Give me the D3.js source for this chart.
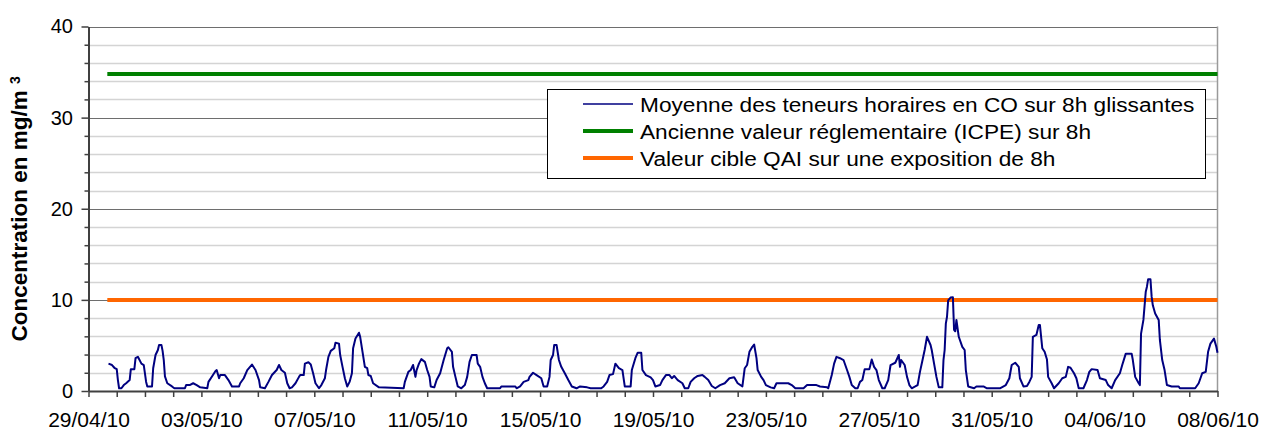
<!DOCTYPE html>
<html>
<head>
<meta charset="utf-8">
<script src="https://cdn.jsdelivr.net/npm/d3@7"></script>
<style>
body { margin: 0; background: #fff; }
svg { display: block; }
text { font-family: "Liberation Sans", Arial, sans-serif; fill: #000; }
</style>
</head>
<body>
<svg id="chart" width="1262" height="431"></svg>
<script>
// dates are handled in UTC so no daylight-saving shift sneaks in
const startDate = new Date(Date.UTC(2010, 3, 29));
const endDate = new Date(Date.UTC(2010, 5, 8));

const xTickLabels = ["29/04/10", "03/05/10", "07/05/10", "11/05/10", "15/05/10", "19/05/10",
    "23/05/10", "27/05/10", "31/05/10", "04/06/10", "08/06/10"];
const yMajorTicks = [0, 10, 20, 30, 40];

// CO 8h rolling mean, hours since 29/04/10 00:00
const coHours = [17, 20, 22, 24, 25, 26, 28, 30, 32, 35, 36, 39, 40, 42, 45, 47, 49, 50, 54, 55,
    57, 59, 60, 62, 63, 64, 65, 67, 71, 73, 82, 83, 86, 89, 92, 95, 101, 102, 105, 108,
    109, 111, 112, 116, 119, 122, 128, 129, 132, 135, 139, 142, 145, 146, 150, 153, 156, 160, 162, 164,
    167, 169, 171, 173, 176, 179, 180, 183, 184, 187, 189, 191, 193, 196, 198, 201, 202, 204, 206, 209,
    210, 213, 214, 216, 218, 220, 222, 224, 225, 227, 230, 231, 233, 235, 237, 238, 240, 242, 247, 268,
    269, 272, 274, 276, 278, 279, 281, 283, 286, 288, 290, 291, 294, 296, 299, 302, 305, 306, 309, 310,
    312, 314, 317, 320, 322, 324, 326, 330, 331, 333, 335, 337, 339, 350, 351, 363, 364, 367, 370, 374,
    375, 378, 381, 385, 387, 390, 392, 393, 395, 396, 398, 400, 402, 405, 408, 411, 415, 418, 424, 427,
    436, 438, 441, 443, 446, 448, 451, 454, 456, 461, 462, 465, 467, 470, 471, 474, 478, 480, 482, 486,
    488, 491, 494, 496, 498, 501, 505, 507, 510, 512, 515, 518, 522, 524, 527, 530, 533, 537, 541, 545,
    549, 552, 556, 558, 560, 562, 564, 566, 568, 569, 572, 574, 576, 580, 583, 585, 595, 598, 601, 608,
    611, 619, 622, 628, 629, 632, 634, 636, 639, 642, 645, 647, 649, 652, 654, 656, 658, 660, 664, 666,
    668, 670, 672, 675, 677, 680, 682, 686, 689, 690, 691, 694, 696, 698, 700, 703, 705, 707, 709, 711,
    713, 716, 717, 719, 721, 723, 726, 727, 728, 729, 730, 731, 733, 735, 736, 737, 738, 740, 743, 745,
    746, 748, 753, 755, 761, 764, 775, 780, 783, 785, 788, 791, 792, 795, 798, 800, 802, 803, 806, 808,
    809, 811, 813, 815, 816, 819, 821, 825, 828, 831, 833, 835, 838, 840, 842, 846, 849, 851, 853, 858,
    860, 865, 867, 870, 873, 877, 879, 882, 887, 888, 890, 893, 894, 895, 897, 899, 900, 901, 903, 904,
    905, 907, 910, 911, 913, 915, 917, 921, 927, 928, 941, 944, 947, 950, 952, 954, 957, 959, 960];
const coValues = [3.0, 2.85, 2.55, 2.4, 1.2, 0.3, 0.3, 0.65, 0.85, 1.2, 2.4, 2.4, 3.6, 3.75, 3.0, 2.85, 1.0, 0.5, 0.5, 2.5,
    3.95, 4.5, 5.05, 5.05, 4.4, 3.4, 1.6, 0.85, 0.5, 0.3, 0.3, 0.65, 0.65, 0.85, 0.65, 0.4, 0.3, 1.0, 1.6, 2.2,
    2.3, 1.4, 1.75, 1.75, 1.2, 0.5, 0.5, 0.85, 1.4, 2.3, 2.9, 2.3, 1.2, 0.4, 0.3, 1.0, 1.75, 2.3, 2.85, 2.3,
    2.0, 0.85, 0.3, 0.4, 0.85, 1.55, 1.75, 1.75, 3.0, 3.15, 2.9, 1.95, 0.85, 0.3, 0.65, 1.4, 2.3, 3.75, 4.4, 4.7,
    5.3, 5.2, 3.95, 2.65, 1.4, 0.5, 1.0, 1.95, 4.7, 5.75, 6.4, 5.95, 4.3, 2.65, 2.5, 1.75, 1.65, 0.85, 0.4, 0.3,
    1.0, 2.1, 2.3, 2.85, 1.55, 2.3, 3.0, 3.5, 3.2, 2.3, 1.55, 0.5, 0.4, 1.2, 1.95, 3.4, 4.7, 4.8, 4.3, 2.65,
    1.55, 0.5, 0.3, 0.65, 1.55, 3.2, 3.95, 3.95, 3.0, 2.65, 1.55, 0.85, 0.3, 0.3, 0.5, 0.5, 0.3, 0.5, 1.0, 1.2,
    1.55, 2.0, 1.75, 1.4, 0.5, 0.5, 1.55, 3.4, 3.95, 5.05, 5.05, 3.4, 2.65, 1.95, 1.2, 0.5, 0.3, 0.5, 0.4, 0.3,
    0.3, 0.5, 1.0, 1.75, 1.85, 3.0, 2.5, 2.3, 0.5, 0.5, 2.3, 3.6, 4.2, 4.2, 2.3, 1.75, 1.5, 1.2, 0.5, 0.65,
    1.2, 1.75, 1.75, 1.4, 1.65, 1.2, 0.85, 0.3, 0.3, 1.0, 1.4, 1.65, 1.75, 1.55, 1.2, 0.55, 0.3, 0.65, 0.85, 1.4,
    1.5, 0.85, 0.5, 2.5, 2.85, 4.3, 4.75, 5.1, 3.6, 2.3, 1.55, 1.2, 0.65, 0.4, 0.3, 0.85, 0.85, 0.65, 0.3, 0.3,
    0.65, 0.65, 0.5, 0.4, 0.3, 1.75, 3.0, 3.75, 3.6, 3.4, 2.3, 1.55, 0.65, 0.3, 0.3, 1.0, 1.2, 2.4, 2.4, 3.45,
    2.65, 2.3, 1.2, 0.3, 0.3, 1.2, 2.85, 3.1, 3.95, 2.65, 3.4, 2.85, 1.55, 0.65, 0.3, 0.5, 0.65, 2.1, 3.3, 4.5,
    5.95, 5.05, 4.5, 3.0, 1.55, 0.4, 0.4, 3.4, 4.5, 7.4, 8.15, 9.95, 10.25, 10.3, 6.7, 6.55, 7.8, 5.95, 4.85, 4.5,
    2.3, 0.5, 0.3, 0.5, 0.5, 0.3, 0.3, 0.65, 1.4, 2.85, 3.1, 2.65, 1.4, 0.5, 0.55, 1.0, 1.55, 5.95, 6.15, 7.25,
    7.25, 4.7, 4.3, 3.45, 1.55, 0.85, 0.3, 0.85, 1.4, 1.55, 2.65, 2.55, 1.95, 1.4, 0.3, 0.3, 1.2, 2.1, 2.4, 2.3,
    1.4, 1.2, 0.65, 0.3, 1.2, 1.95, 2.85, 4.1, 4.1, 3.4, 1.55, 0.85, 0.65, 6.3, 7.8, 10.9, 11.45, 12.25, 12.25, 10.35,
    9.4, 8.5, 7.8, 5.6, 3.4, 2.3, 0.65, 0.5, 0.5, 0.3, 0.3, 0.85, 1.95, 2.1, 4.3, 5.2, 5.75, 4.85, 4.2];

// threshold lines (mg/m3) and the hours they span
const limitHours = [16, 960];
const icpeValue = 34.8;
const qaiValue = 10;

const legendLabels = [
    "Moyenne des teneurs horaires en CO sur 8h glissantes",
    "Ancienne valeur réglementaire (ICPE) sur 8h",
    "Valeur cible QAI sur une exposition de 8h"
];
const legendColors = ["#000080", "#008000", "#ff6600"];
const legendWidths = [1.5, 4, 4];

const svg = d3.select("#chart");
const plotLeft = 88.5, plotRight = 1217.5, plotTop = 26.5, plotBottom = 391;

const x = d3.scaleUtc().domain([startDate, endDate]).range([plotLeft, plotRight]);
const y = d3.scaleLinear().domain([0, 40]).range([plotBottom, plotTop]);

const atHour = h => new Date(startDate.getTime() + h * 3600e3);

// gridlines
const minorTicks = d3.range(0, 41, 2).filter(v => v % 10 != 0);
svg.append("g").selectAll("line")
    .data(minorTicks)
    .join("line")
    .attr("x1", plotLeft).attr("x2", plotRight)
    .attr("y1", d => Math.round(y(d)) + 0.5).attr("y2", d => Math.round(y(d)) + 0.5)
    .style("stroke", "#d4d4d4").style("stroke-width", 1.5);
svg.append("g").selectAll("line")
    .data(yMajorTicks.filter(v => v > 0))
    .join("line")
    .attr("x1", plotLeft).attr("x2", plotRight)
    .attr("y1", d => Math.round(y(d)) + 0.5).attr("y2", d => Math.round(y(d)) + 0.5)
    .style("stroke", "#6e6e6e").style("stroke-width", 1.2);

// right border of the plot area
svg.append("line")
    .attr("x1", plotRight).attr("x2", plotRight).attr("y1", plotTop).attr("y2", plotBottom)
    .style("stroke", "#9a9a9a").style("stroke-width", 1.5);

// threshold lines
const limitLine = d3.line().x(d => x(atHour(d[0]))).y(d => y(d[1]));
svg.append("path")
    .datum(limitHours.map(h => [h, icpeValue]))
    .attr("d", limitLine)
    .style("fill", "none").style("stroke", legendColors[1]).style("stroke-width", 4);
svg.append("path")
    .datum(limitHours.map(h => [h, qaiValue]))
    .attr("d", limitLine)
    .style("fill", "none").style("stroke", legendColors[2]).style("stroke-width", 4);

// CO series
const coLine = d3.line()
    .x((d, i) => x(atHour(coHours[i])))
    .y(d => y(d));
svg.append("path")
    .datum(coValues)
    .attr("d", coLine)
    .style("fill", "none").style("stroke", legendColors[0]).style("stroke-width", 2)
    .style("stroke-linejoin", "round");

// x axis: a tick every day, a label every 4 days
const xAxis = d3.axisBottom(x)
    .ticks(d3.utcDay.every(1))
    .tickSize(6)
    .tickSizeOuter(0)
    .tickFormat((d, i) => i % 4 == 0 ? xTickLabels[i / 4] : "");
const gx = svg.append("g").attr("transform", `translate(0,${plotBottom})`).call(xAxis);
gx.select(".domain").style("stroke", "#404040").style("stroke-width", 2);
gx.selectAll(".tick line").style("stroke", "#404040").style("stroke-width", 1.5);
gx.selectAll(".tick text")
    .attr("y", 21).attr("dy", "0.71em")
    .style("font-size", "21px")
    .style("font-family", "'Liberation Sans', Arial, sans-serif");

// y axis: major ticks with labels, minor ticks every 2
const gyMinor = svg.append("g").attr("transform", `translate(${plotLeft},0)`)
    .call(d3.axisLeft(y).tickValues(minorTicks).tickSize(4).tickFormat(""));
gyMinor.select(".domain").remove();
gyMinor.selectAll(".tick line").style("stroke", "#404040").style("stroke-width", 1.5);

const gy = svg.append("g").attr("transform", `translate(${plotLeft},0)`)
    .call(d3.axisLeft(y).tickValues(yMajorTicks).tickSize(7).tickSizeOuter(0));
gy.select(".domain").style("stroke", "#404040").style("stroke-width", 2);
gy.selectAll(".tick text")
    .attr("x", -15.5)
    .style("font-size", "20px")
    .style("font-family", "'Liberation Sans', Arial, sans-serif");
gy.selectAll(".tick line").style("stroke", "#404040").style("stroke-width", 1.5);

// y axis title, with a raised small 3
const title = svg.append("text")
    .attr("transform", `translate(27,${(plotTop + plotBottom) / 2}) rotate(-90)`)
    .attr("text-anchor", "middle")
    .style("font-size", "22.5px")
    .style("font-weight", "bold");
title.append("tspan").text("Concentration en mg/m ");
title.append("tspan")
    .attr("dy", -7)
    .style("font-size", "14px")
    .text("3");

// legend
const legend = svg.append("g").attr("transform", "translate(547,89)");
legend.append("rect")
    .attr("x", 0.5).attr("y", 0.5).attr("width", 658).attr("height", 89)
    .style("fill", "#fff").style("stroke", "#000").style("stroke-width", 1);
const rows = legend.selectAll(".row")
    .data(legendLabels)
    .join("g")
    .classed("row", true)
    .attr("transform", (d, i) => `translate(0,${15 + i * 27})`);
rows.append("line")
    .attr("x1", 36).attr("x2", 86)
    .style("stroke", (d, i) => legendColors[i])
    .style("stroke-width", (d, i) => legendWidths[i]);
rows.append("text")
    .attr("transform", "translate(93,0) scale(1.08,1)")
    .attr("dy", "0.36em")
    .style("font-size", "21px")
    .text(d => d);
</script>
</body>
</html>
